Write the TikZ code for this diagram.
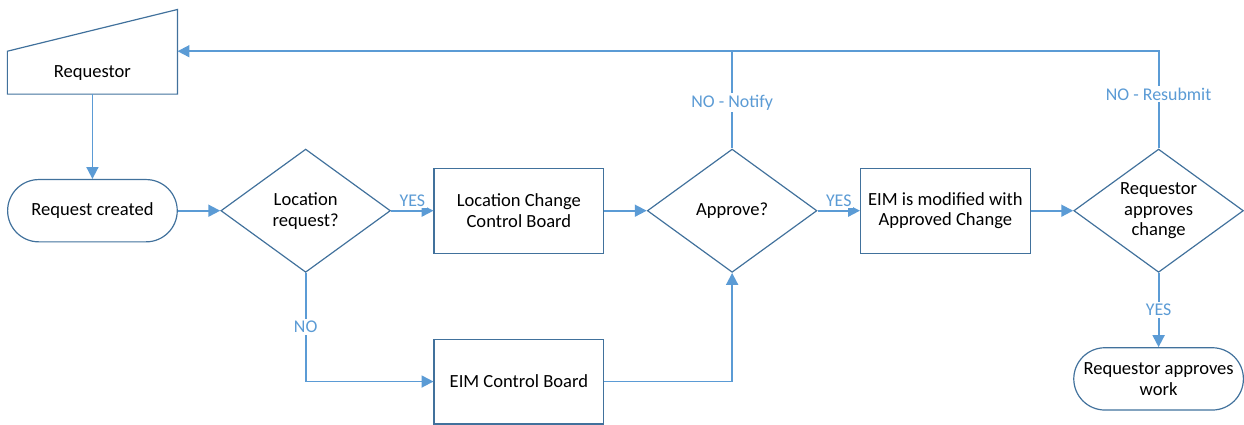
\documentclass[tikz,border=0pt]{standalone}
\usepackage{fontspec}
\setmainfont{Carlito}
\usetikzlibrary{positioning,arrows.meta,shapes.geometric}
\definecolor{flowline}{HTML}{5B9BD5}
\definecolor{flowedge}{HTML}{41719C}

\begin{document}
\begin{tikzpicture}[
  every node/.style={font=\fontsize{14}{15.75}\selectfont},
  term/.style={draw=flowedge, line width=0.9pt, rectangle, rounded corners=23.5pt, minimum width=128pt, minimum height=47pt, inner sep=1pt, align=center},
  proc/.style={draw=flowedge, line width=0.9pt, rectangle, minimum width=128pt, minimum height=64pt, align=center},
  decide/.style={draw=flowedge, line width=0.9pt, diamond, aspect=1.38, minimum width=128pt, minimum height=93pt, inner sep=-2pt, align=center},
  flow/.style={-{Triangle[length=9pt,width=9pt]}, flowline, line width=1.4pt},
  link/.style={flowline, line width=1.4pt},
  lab/.style={font=\fontsize{13.5}{15}\selectfont, text=flowline, fill=white, inner sep=1.5pt}]

\node[term] (created) {Request created};
\node[decide, right=32pt of created] (locreq) {Location\\request?};
\node[proc, right=32pt of locreq] (lccb) {Location Change\\Control Board};
\node[decide, right=32pt of lccb] (approve) {Approve?};
\node[proc, right=32pt of approve] (eimmod) {EIM is modified with\\Approved Change};
\node[decide, right=32pt of eimmod] (reqok) {Requestor\\approves\\change};
\node[term, below=56pt of reqok] (reqwork) {Requestor approves\\work};
\node[proc, below=64pt of lccb] (eimcb) {EIM Control Board};
\node[minimum width=128pt, minimum height=32pt, above=64pt of created] (requestor) {\raisebox{-2pt}{Requestor}};
\draw[flowedge, line width=0.9pt] (requestor.south west) -- (requestor.north west) -- ([yshift=31.5pt]requestor.north east) -- (requestor.south east) -- cycle;

\draw[flow] (requestor) -- (created);
\draw[flow] (created) -- (locreq);
\draw[flow] (locreq) -- node[lab, above=1pt] {YES} (lccb);
\draw[flow] (lccb) -- (approve);
\draw[flow] (approve) -- node[lab, above=1pt] {YES} (eimmod);
\draw[flow] (eimmod) -- (reqok);
\draw[flow] (reqok) -- node[lab] {YES} (reqwork);
\draw[flow] (locreq.south) |- node[lab, pos=0.25] {NO} (eimcb.west);
\draw[flow] (eimcb.east) -| (approve.south);
\draw[flow] (reqok.north) |- node[lab, pos=0.28] {NO - Resubmit} (requestor.north east);
\draw[link] (approve.north) -- node[lab, pos=0.47] {NO - Notify} (approve.north |- requestor.north east);

\useasboundingbox (-69.75pt,-158.25pt) rectangle (863.25pt,159pt);
\end{tikzpicture}
\end{document}
